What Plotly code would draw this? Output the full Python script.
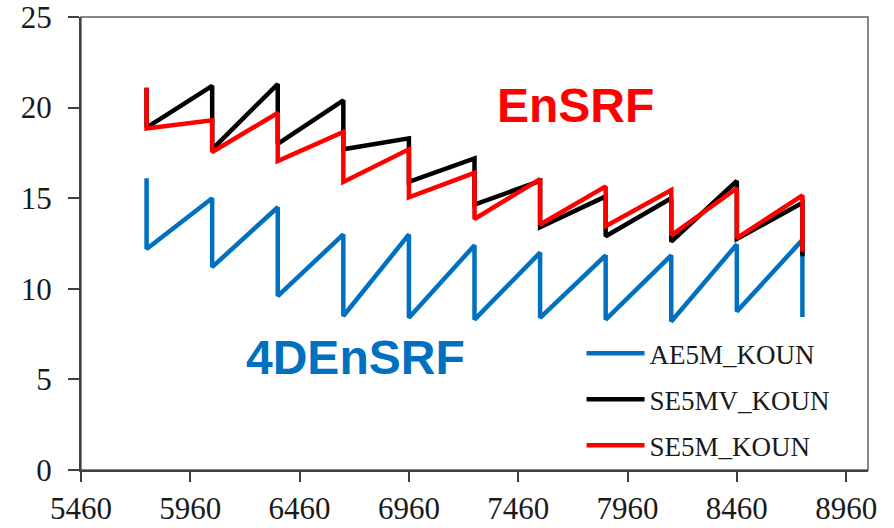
import plotly.graph_objects as go

# cycle times (analysis times)
cycle_x = [5760, 6060, 6360, 6660, 6960, 7260, 7560, 7860, 8160, 8460, 8760]

# AE5M_KOUN (4DEnSRF): forecast value before analysis, analysis value after
ae5m_fcst = [16.1, 15.0, 14.5, 13.0, 13.0, 12.4, 12.0, 11.85, 11.85, 12.45, 12.7]
ae5m_anal = [12.2, 11.2, 9.6, 8.5, 8.4, 8.3, 8.4, 8.3, 8.2, 8.75, 8.45]

# SE5MV_KOUN (EnSRF)
se5mv_fcst = [21.1, 21.2, 21.3, 20.4, 18.3, 17.2, 15.95, 15.1, 15.0, 15.95, 14.75]
se5mv_anal = [18.9, 17.7, 18.0, 17.7, 15.9, 14.65, 13.4, 12.9, 12.6, 12.75, 11.8]

# SE5M_KOUN (EnSRF)
se5m_fcst = [21.1, 19.3, 19.7, 18.65, 17.7, 16.4, 16.05, 15.65, 15.45, 15.55, 15.15]
se5m_anal = [18.85, 17.55, 17.05, 15.9, 15.05, 13.85, 13.55, 13.45, 12.95, 12.8, 12.05]

series_names = ["AE5M_KOUN", "SE5MV_KOUN", "SE5M_KOUN"]
series_colors = ["#0070C0", "#000000", "#FF0000"]

x_ticks = [5460, 5960, 6460, 6960, 7460, 7960, 8460, 8960]
y_ticks = [0, 5, 10, 15, 20, 25]


def sawtooth(fcst, anal):
    xs, ys = [], []
    for x, f, a in zip(cycle_x, fcst, anal):
        xs += [x, x]
        ys += [f, a]
    return xs, ys


fig = go.Figure()
for name, color, (f, a) in zip(series_names, series_colors,
                               [(ae5m_fcst, ae5m_anal), (se5mv_fcst, se5mv_anal), (se5m_fcst, se5m_anal)]):
    xs, ys = sawtooth(f, a)
    fig.add_trace(go.Scatter(x=xs, y=ys, mode="lines", name=name, legendgroup=name,
                             line=dict(color=color, width=4.5)))

axis_color = "#404040"
tick_font = dict(family="Liberation Serif, Times New Roman, serif", size=31, color="#1a1a1a")

fig.update_layout(
    width=894, height=528,
    margin=dict(l=81, r=26, t=17, b=58, autoexpand=False),
    paper_bgcolor="white", plot_bgcolor="white",
    showlegend=True,
    legend=dict(
        x=0.636, y=0.311, xanchor="left", yanchor="top",
        bgcolor="rgba(0,0,0,0)", borderwidth=0,
        font=dict(family="Liberation Serif, Times New Roman, serif", size=27, color="#1a1a1a"),
        tracegroupgap=8, itemwidth=58,
    ),
    xaxis=dict(
        range=[5460, 9060], tickmode="array", tickvals=x_ticks,
        ticktext=[str(v) for v in x_ticks],
        ticks="outside", ticklen=10, tickwidth=2, tickcolor=axis_color,
        showline=True, linecolor=axis_color, linewidth=2,
        showgrid=False, zeroline=False, tickfont=tick_font,
        automargin=False, ticklabeloverflow="allow",
    ),
    yaxis=dict(
        range=[0, 25], tickmode="array", tickvals=y_ticks,
        ticktext=[str(v) for v in y_ticks],
        ticks="outside", ticklen=11, tickwidth=2, tickcolor=axis_color,
        showline=True, linecolor=axis_color, linewidth=2,
        showgrid=False, zeroline=False, tickfont=tick_font,
        ticklabelstandoff=10, automargin=False, ticklabeloverflow="allow",
    ),
    shapes=[dict(type="rect", xref="paper", yref="paper", x0=0, x1=1, y0=0, y1=1,
                 line=dict(color="#606060", width=1.5), layer="below")],
    annotations=[
        dict(x=7720, y=20.1, xref="x", yref="y", text="<b>EnSRF</b>", showarrow=False,
             font=dict(family="Liberation Sans, Arial, sans-serif", size=48, color="#FF0000")),
        dict(x=6714, y=6.2, xref="x", yref="y", text="<b>4DEnSRF</b>", showarrow=False,
             font=dict(family="Liberation Sans, Arial, sans-serif", size=48, color="#0070C0")),
    ],
)

fig.write_html("out.html")
